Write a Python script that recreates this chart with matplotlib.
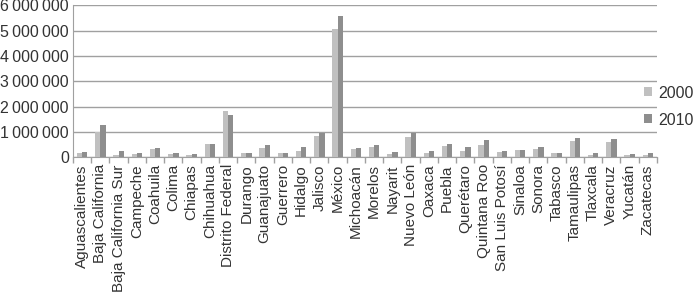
import matplotlib.pyplot as plt
import numpy as np

plt.rcParams['font.family'] = ['Liberation Sans', 'DejaVu Sans']

# states
states = ["Aguascalientes", "Baja California", "Baja California Sur", "Campeche",
          "Coahuila", "Colima", "Chiapas", "Chihuahua", "Distrito Federal",
          "Durango", "Guanajuato", "Guerrero", "Hidalgo", "Jalisco", "México",
          "Michoacán", "Morelos", "Nayarit", "Nuevo León", "Oaxaca", "Puebla",
          "Querétaro", "Quintana Roo", "San Luis Potosí", "Sinaloa", "Sonora",
          "Tabasco", "Tamaulipas", "Tlaxcala", "Veracruz", "Yucatán", "Zacatecas"]

# values
v2000 = [180000, 1000000, 100000, 130000, 320000, 140000, 100000, 530000, 1820000,
         170000, 370000, 170000, 260000, 830000, 5060000, 340000, 420000, 140000,
         810000, 180000, 450000, 260000, 470000, 200000, 290000, 340000, 160000,
         660000, 110000, 620000, 90000, 110000]
v2010 = [220000, 1290000, 250000, 170000, 370000, 180000, 140000, 530000, 1670000,
         180000, 490000, 180000, 420000, 950000, 5580000, 380000, 490000, 210000,
         950000, 250000, 530000, 420000, 680000, 250000, 270000, 420000, 180000,
         760000, 180000, 740000, 130000, 170000]

fig = plt.figure(figsize=(6.93, 2.92), dpi=100)
ax = fig.add_axes([0.1053, 0.4613, 0.8427, 0.5205])

x = np.arange(len(states))
w = 0.29
ax.bar(x - w / 2, v2000, w, color='#c0c0c0', label='2000', zorder=3)
ax.bar(x + w / 2, v2010, w, color='#8e8e8e', label='2010', zorder=3)

ax.set_xlim(-0.5, len(states) - 0.5)
ax.set_ylim(0, 6000000)
ax.set_yticks(np.arange(0, 6000001, 1000000))
ax.set_yticklabels(['0' if t == 0 else f'{t:,}'.replace(',', '\u2009')
                    for t in range(0, 6000001, 1000000)],
                   fontsize=11.5, color='#333333')
ax.yaxis.grid(True, color='#a0a0a0', linewidth=1, zorder=0)
ax.tick_params(axis='y', length=0, pad=3)

ax.set_xticks(x)
ax.set_xticklabels(states, rotation=90, fontsize=11, color='#333333')
ax.tick_params(axis='x', length=0, pad=5)
ax.set_xticks(np.arange(-0.5, len(states)), minor=True)
ax.tick_params(axis='x', which='minor', length=4, color='#a0a0a0', width=1)

for s in ['top', 'right']:
    ax.spines[s].set_visible(False)
for s in ['left', 'bottom']:
    ax.spines[s].set_color('#a0a0a0')

fig.legend(loc='center left', bbox_to_anchor=(0.930, 0.635), frameon=False,
           fontsize=11.5, handlelength=0.5, handleheight=0.5, handletextpad=0.35,
           labelspacing=0.75, borderaxespad=0, borderpad=0, labelcolor='#333333')

fig.savefig('out.png', dpi=100)
